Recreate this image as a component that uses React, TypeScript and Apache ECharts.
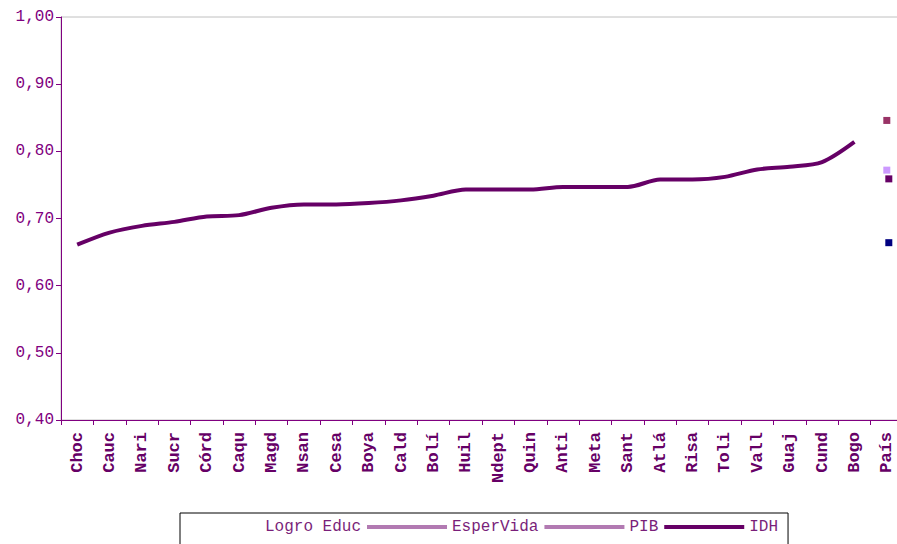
import React, { useEffect, useRef } from "react";
import * as echarts from "echarts";

const categories = [
  "Choc", "Cauc", "Nari", "Sucr", "Córd", "Caqu", "Magd", "Nsan", "Cesa", "Boya",
  "Cald", "Bolí", "Huil", "Ndept", "Quin", "Anti", "Meta", "Sant", "Atlá", "Risa",
  "Toli", "Vall", "Guaj", "Cund", "Bogo", "País",
];

const idhDept = [
  0.661, 0.679, 0.689, 0.695, 0.703, 0.705, 0.716, 0.721, 0.721, 0.723,
  0.727, 0.734, 0.743, 0.743, 0.743, 0.747, 0.747, 0.747, 0.758, 0.758,
  0.762, 0.773, 0.777, 0.784, 0.814,
];

const paisLogroEduc = 0.846;
const paisEsperVida = 0.772;
const paisPIB = 0.664;
const paisIDH = 0.759;

const onlyPais = (v: number) => categories.map((c) => (c === "País" ? v : null));

export default function App() {
  const ref = useRef<HTMLDivElement>(null);

  useEffect(() => {
    document.body.style.margin = "0";
    if (!ref.current) return;
    const chart = echarts.init(ref.current, undefined, { renderer: "svg" });
    const purple = "#800080";
    const dark = "#660066";
    const marker = (name: string, v: number, color: string, offset: number[] = [0, 0]) => ({
      name,
      type: "line",
      data: onlyPais(v),
      showSymbol: true,
      symbol: "rect",
      symbolSize: 7,
      symbolOffset: offset,
      itemStyle: { color },
      lineStyle: { width: 0 },
      z: 5,
    });
    chart.setOption({
      animation: false,
      backgroundColor: "#ffffff",
      grid: {
        left: 61,
        top: 17,
        width: 842,
        height: 403,
        show: true,
        borderColor: "#c0c0c0",
        borderWidth: 1,
      },
      legend: {
        left: 180,
        top: 513,
        padding: [6, 10, 30, 0],
        borderColor: "#000000",
        borderWidth: 1,
        itemWidth: 80,
        itemHeight: 4,
        itemGap: 6,
        textStyle: { fontFamily: "Liberation Mono", fontSize: 16, color: "#7a1f7a" },
        data: [
          { name: "Logro Educ", icon: "rect", itemStyle: { color: "rgba(255,255,255,0)" } },
          { name: "EsperVida", icon: "rect", itemStyle: { color: "#b27ab2" } },
          { name: "PIB", icon: "rect", itemStyle: { color: "#b27ab2" } },
          { name: "IDH", icon: "rect", itemStyle: { color: dark } },
        ],
      },
      xAxis: {
        type: "category",
        data: categories,
        boundaryGap: true,
        axisLine: { lineStyle: { color: purple, width: 1 } },
        axisTick: { show: true, length: 5, lineStyle: { color: purple } },
        axisLabel: {
          interval: 0,
          rotate: 90,
          margin: 12,
          fontFamily: "Liberation Mono",
          fontWeight: "bold",
          fontSize: 17,
          color: dark,
        },
        splitLine: { show: false },
      },
      yAxis: {
        type: "value",
        min: 0.4,
        max: 1.0,
        interval: 0.1,
        axisLine: { show: true, lineStyle: { color: purple, width: 1 } },
        axisTick: { show: true, length: 5, lineStyle: { color: purple } },
        axisLabel: {
          margin: 7,
          fontFamily: "Liberation Mono",
          fontSize: 16,
          color: purple,
          formatter: (v: number) => v.toFixed(2).replace(".", ","),
        },
        splitLine: { show: false },
      },
      series: [
        marker("Logro Educ", paisLogroEduc, "#993366"),
        marker("EsperVida", paisEsperVida, "#cc99ff"),
        marker("PIB", paisPIB, "#000080", [2, 0]),
        {
          name: "IDH",
          type: "line",
          data: [...idhDept, null],
          smooth: 0.3,
          showSymbol: false,
          lineStyle: { color: dark, width: 4 },
          itemStyle: { color: dark },
          z: 4,
        },
        marker("IDH País", paisIDH, dark, [2, 0]),
      ],
    });
    return () => chart.dispose();
  }, []);

  return (
    <div style={{ width: 897, height: 544, overflow: "hidden", position: "relative" }}>
      <div ref={ref} style={{ width: 920, height: 544 }} />
    </div>
  );
}
